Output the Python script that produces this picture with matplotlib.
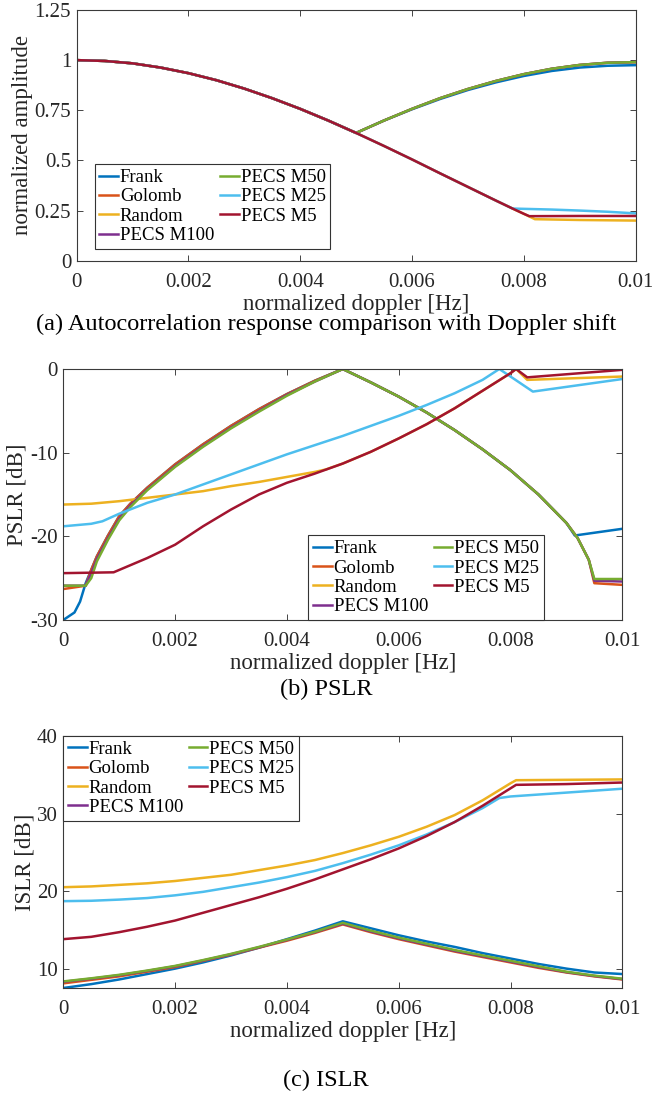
"""Doppler tolerance comparison: autocorrelation, PSLR and ISLR."""
import matplotlib
matplotlib.use('Agg')
import matplotlib.pyplot as plt

plt.rcParams['font.family'] = ['Liberation Serif', 'DejaVu Serif']
plt.rcParams['axes.unicode_minus'] = False

names = ['Frank', 'Golomb', 'Random', 'PECS M100', 'PECS M50', 'PECS M25', 'PECS M5']
colors = ['#0072BD', '#D95319', '#EDB120', '#7E2F8E', '#77AC30', '#4DBEEE', '#A2142F']

x_ticks = [0, 0.002, 0.004, 0.006, 0.008, 0.01]
x_ticklabels = ['0', '0.002', '0.004', '0.006', '0.008', '0.01']

# (a) autocorrelation amplitude
a_x_head = [0, 0.0005, 0.001, 0.0015, 0.002, 0.0025, 0.003, 0.0035, 0.004, 0.0045, 0.005]
a_y_head = [1.0, 0.996, 0.984, 0.963, 0.935, 0.900, 0.858, 0.810, 0.757, 0.699, 0.637]
a_x_up = [0.0055, 0.006, 0.0065, 0.007, 0.0075, 0.008, 0.0085, 0.009, 0.0095, 0.01]
a_y_up = [0.699, 0.757, 0.810, 0.856, 0.896, 0.930, 0.957, 0.976, 0.987, 0.990]
a_y_frank_up = [0.699, 0.755, 0.806, 0.851, 0.889, 0.921, 0.946, 0.963, 0.972, 0.975]
a_x_down = [0.0055, 0.006, 0.0065, 0.007, 0.0075, 0.0078]
a_y_down = [0.572, 0.505, 0.436, 0.368, 0.300, 0.260]
a_x_random_tail = [0.008, 0.0082, 0.009, 0.01]
a_y_random_tail = [0.234, 0.207, 0.203, 0.200]
a_x_m25_tail = [0.0085, 0.009, 0.0095, 0.01]
a_y_m25_tail = [0.255, 0.250, 0.244, 0.236]
a_x_m5_tail = [0.008, 0.0081, 0.009, 0.01]
a_y_m5_tail = [0.234, 0.222, 0.223, 0.223]

# (b) PSLR [dB]
b_x_up = [0, 0.0002, 0.0004, 0.0005, 0.0006, 0.0008, 0.001, 0.0012, 0.0015, 0.002,
          0.0025, 0.003, 0.0035, 0.004, 0.0045, 0.005, 0.0055, 0.006, 0.0065, 0.007,
          0.0075, 0.008, 0.0085, 0.009, 0.0092, 0.0094, 0.0095, 0.01]
b_golomb = [-26.3, -26.1, -25.9, -24.0, -22.4, -19.9, -17.6, -16.1, -14.2, -11.4,
            -9.0, -6.8, -4.8, -3.0, -1.4, 0.0, -1.6, -3.3, -5.2, -7.3,
            -9.6, -12.1, -15.0, -18.4, -20.2, -22.8, -25.6, -25.8]
b_m100 = [-25.9, -25.9, -25.9, -24.4, -22.7, -20.2, -17.9, -16.3, -14.4, -11.6,
          -9.2, -7.0, -5.0, -3.1, -1.5, 0.0, -1.6, -3.3, -5.2, -7.3,
          -9.6, -12.1, -15.0, -18.4, -20.2, -22.8, -25.3, -25.4]
b_m50 = [-25.9, -25.9, -25.9, -25.0, -23.0, -20.4, -18.1, -16.5, -14.5, -11.7,
         -9.3, -7.1, -5.1, -3.2, -1.5, 0.0, -1.6, -3.3, -5.2, -7.3,
         -9.6, -12.1, -15.0, -18.4, -20.2, -22.8, -25.1, -25.1]
b_x_frank = [0, 0.0002, 0.0003, 0.0004, 0.0005, 0.0006, 0.0008, 0.001, 0.0012, 0.0015,
             0.002, 0.0025, 0.003, 0.0035, 0.004, 0.0045, 0.005, 0.0055, 0.006, 0.0065,
             0.007, 0.0075, 0.008, 0.0085, 0.009, 0.00915, 0.01]
b_frank = [-30.0, -29.1, -27.8, -25.6, -24.0, -22.4, -19.9, -17.6, -16.1, -14.2,
           -11.4, -9.0, -6.8, -4.8, -3.0, -1.4, 0.0, -1.6, -3.3, -5.2,
           -7.3, -9.6, -12.1, -15.0, -18.4, -19.9, -19.1]
b_x_random = [0, 0.0005, 0.001, 0.0015, 0.002, 0.0025, 0.003, 0.0035, 0.004, 0.0045,
              0.0047, 0.005, 0.0055, 0.006, 0.0065, 0.007, 0.0075, 0.008, 0.0081,
              0.0083, 0.01]
b_random = [-16.2, -16.1, -15.8, -15.4, -15.0, -14.6, -14.0, -13.5, -12.9, -12.3,
            -12.0, -11.3, -9.9, -8.3, -6.6, -4.7, -2.6, -0.5, 0.0,
            -1.3, -0.9]
b_x_m25 = [0, 0.0005, 0.0007, 0.001, 0.0015, 0.002, 0.0025, 0.003, 0.0035, 0.004,
           0.0045, 0.005, 0.0055, 0.006, 0.0065, 0.007, 0.0075, 0.0078, 0.0084, 0.01]
b_m25 = [-18.8, -18.5, -18.2, -17.3, -16.0, -15.0, -13.8, -12.6, -11.4, -10.2,
         -9.1, -8.0, -6.8, -5.6, -4.3, -2.9, -1.3, 0.0, -2.7, -1.2]
b_x_m5 = [0, 0.0009, 0.0015, 0.002, 0.0025, 0.003, 0.0035, 0.004, 0.0045, 0.005,
          0.0055, 0.006, 0.0065, 0.007, 0.0075, 0.008, 0.0081, 0.0083, 0.01]
b_m5 = [-24.4, -24.3, -22.6, -21.0, -18.8, -16.8, -15.0, -13.6, -12.5, -11.3,
        -9.9, -8.3, -6.6, -4.7, -2.6, -0.5, 0.0, -1.0, -0.1]

# (c) ISLR [dB]
c_x = [0, 0.0005, 0.001, 0.0015, 0.002, 0.0025, 0.003, 0.0035, 0.004, 0.0045, 0.005,
       0.0055, 0.006, 0.0065, 0.007, 0.0075, 0.008, 0.0085, 0.009, 0.0095, 0.01]
c_frank = [7.5, 8.0, 8.6, 9.3, 10.0, 10.8, 11.7, 12.7, 13.8, 14.9, 16.1,
           15.2, 14.3, 13.5, 12.8, 12.0, 11.3, 10.6, 10.0, 9.5, 9.3]
c_golomb = [8.1, 8.55, 9.0, 9.6, 10.2, 11.0, 11.8, 12.7, 13.6, 14.6, 15.7,
            14.7, 13.8, 13.0, 12.2, 11.5, 10.8, 10.1, 9.5, 9.0, 8.6]
c_m100 = [8.3, 8.7, 9.15, 9.7, 10.3, 11.05, 11.85, 12.75, 13.7, 14.7, 15.8,
          14.8, 13.9, 13.1, 12.3, 11.6, 10.9, 10.2, 9.55, 9.05, 8.65]
c_m50 = [8.35, 8.75, 9.2, 9.75, 10.35, 11.1, 11.9, 12.8, 13.75, 14.75, 15.9,
         14.9, 14.0, 13.2, 12.4, 11.7, 11.0, 10.3, 9.6, 9.1, 8.7]
c_x_random = [0, 0.0005, 0.001, 0.0015, 0.002, 0.0025, 0.003, 0.0035, 0.004, 0.0045,
              0.005, 0.0055, 0.006, 0.0065, 0.007, 0.0075, 0.008, 0.0081, 0.01]
c_random = [20.5, 20.6, 20.8, 21.0, 21.3, 21.7, 22.1, 22.7, 23.3, 24.0,
            24.9, 25.9, 27.0, 28.3, 29.8, 31.7, 33.9, 34.3, 34.4]
c_x_m25 = [0, 0.0005, 0.001, 0.0015, 0.002, 0.0025, 0.003, 0.0035, 0.004, 0.0045,
           0.005, 0.0055, 0.006, 0.0065, 0.007, 0.0075, 0.0078, 0.008, 0.009, 0.01]
c_m25 = [18.7, 18.75, 18.9, 19.1, 19.45, 19.9, 20.5, 21.1, 21.8, 22.6,
         23.6, 24.7, 25.9, 27.3, 28.9, 30.7, 32.0, 32.2, 32.7, 33.2]
c_x_m5 = [0, 0.0005, 0.001, 0.0015, 0.002, 0.0025, 0.003, 0.0035, 0.004, 0.0045,
          0.005, 0.0055, 0.006, 0.0065, 0.007, 0.0075, 0.0081, 0.009, 0.01]
c_m5 = [13.8, 14.1, 14.7, 15.4, 16.2, 17.2, 18.2, 19.2, 20.3, 21.5,
        22.8, 24.1, 25.5, 27.1, 28.9, 31.0, 33.7, 33.8, 34.0]

panel_a = [
    (a_x_head + a_x_up, a_y_head + a_y_frank_up),
    (a_x_head + a_x_up, a_y_head + a_y_up),
    (a_x_head + a_x_down + a_x_random_tail, a_y_head + a_y_down + a_y_random_tail),
    (a_x_head + a_x_up, a_y_head + a_y_up),
    (a_x_head + a_x_up, a_y_head + a_y_up),
    (a_x_head + a_x_down + a_x_m25_tail, a_y_head + a_y_down + a_y_m25_tail),
    (a_x_head + a_x_down + a_x_m5_tail, a_y_head + a_y_down + a_y_m5_tail),
]
panel_b = [
    (b_x_frank, b_frank), (b_x_up, b_golomb), (b_x_random, b_random),
    (b_x_up, b_m100), (b_x_up, b_m50), (b_x_m25, b_m25), (b_x_m5, b_m5),
]
panel_c = [
    (c_x, c_frank), (c_x, c_golomb), (c_x_random, c_random),
    (c_x, c_m100), (c_x, c_m50), (c_x_m25, c_m25), (c_x_m5, c_m5),
]

W, H = 652, 1098
fig = plt.figure(figsize=(W / 100, H / 100), dpi=100)


def make_ax(left, top, right, bottom):
    """Axes from pixel box."""
    ax = fig.add_axes([left / W, 1 - bottom / H, (right - left) / W, (bottom - top) / H])
    for sp in ax.spines.values():
        sp.set_color('#3a3a3a')
        sp.set_linewidth(0.8)
    ax.tick_params(direction='in', top=True, right=True, length=4, width=0.6,
                   labelsize=15, colors='#262626')
    ax.tick_params(axis='x', pad=9)
    ax.tick_params(axis='y', pad=4)
    ax.set_xlim(0, 0.01)
    ax.set_xticks(x_ticks)
    ax.set_xticklabels(x_ticklabels)
    ax.set_xlabel('normalized doppler [Hz]', fontsize=16.5, labelpad=1, color='#262626')
    return ax


def draw(ax, series):
    for (xs, ys), name, c in zip(series, names, colors):
        ax.plot(xs, ys, color=c, lw=1.8, label=name)


legend_kw = dict(ncol=2, fontsize=13.5, handlelength=1.0, handletextpad=0.1,
                 columnspacing=0.3, labelspacing=0.12, borderpad=0.25,
                 borderaxespad=0, fancybox=False, framealpha=1, edgecolor='#333333')

ax1 = make_ax(76.7, 10, 635.5, 260.7)
draw(ax1, panel_a)
ax1.set_ylim(0, 1.25)
ax1.set_yticks([0, 0.25, 0.5, 0.75, 1, 1.25])
ax1.set_yticklabels(['0', '0.25', '0.5', '0.75', '1', '1.25'])
ax1.set_ylabel('normalized amplitude', fontsize=16.5, labelpad=1, color='#262626')
ax1.legend(loc='lower left', bbox_to_anchor=(0.032, 0.047), **legend_kw).get_frame().set_linewidth(0.8)

ax2 = make_ax(63.3, 369, 622.3, 620)
draw(ax2, panel_b)
ax2.set_ylim(-30, 0)
ax2.set_yticks([-30, -20, -10, 0])
ax2.set_yticklabels(['-30', '-20', '-10', '0'])
ax2.set_ylabel('PSLR [dB]', fontsize=16.5, labelpad=2, color='#262626')
ax2.legend(loc='lower left', bbox_to_anchor=(0.4385, 0.0), **legend_kw).get_frame().set_linewidth(0.8)

ax3 = make_ax(63.3, 736, 622.3, 988)
draw(ax3, panel_c)
ax3.set_ylim(7.5, 40)
ax3.set_yticks([10, 20, 30, 40])
ax3.set_yticklabels(['10', '20', '30', '40'])
ax3.set_ylabel('ISLR [dB]', fontsize=16.5, labelpad=1, color='#262626')
ax3.legend(loc='upper left', bbox_to_anchor=(0.0, 1.0), **legend_kw).get_frame().set_linewidth(0.8)

fig.text(0.5, 1 - 324 / H, '(a) Autocorrelation response comparison with Doppler shift',
         ha='center', va='center', fontsize=17.5)
fig.text(0.5, 1 - 689 / H, '(b) PSLR', ha='center', va='center', fontsize=17.5)
fig.text(0.5, 1 - 1080 / H, '(c) ISLR', ha='center', va='center', fontsize=17.5)

fig.savefig('out.png', dpi=100)
